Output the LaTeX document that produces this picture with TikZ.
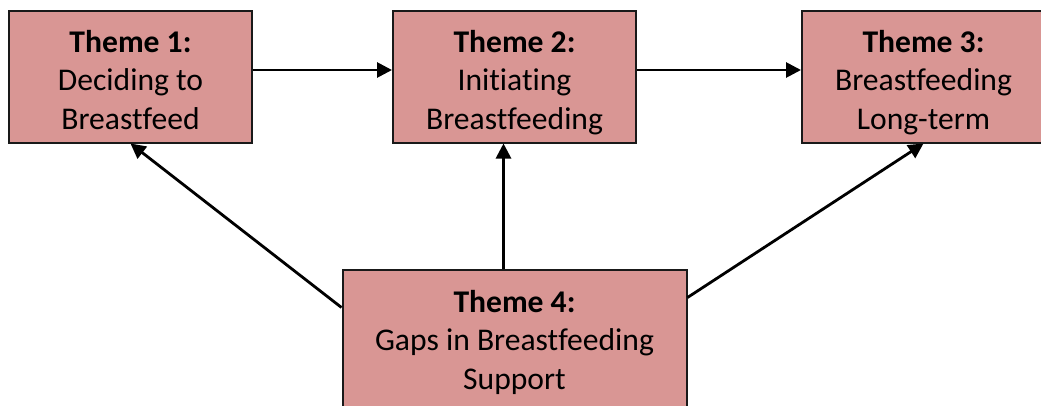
\documentclass[tikz,border=0pt]{standalone}
\usepackage{fontspec}
\setmainfont{Carlito}[Ligatures=NoCommon]
\usetikzlibrary{arrows.meta,positioning}
\definecolor{themered}{RGB}{217,150,148}
\definecolor{edgegray}{RGB}{25,25,25}

\begin{document}
\begin{tikzpicture}[
  x=1pt, y=-1pt,
  font=\fontsize{31.6}{38.5}\selectfont,
  every node/.style={align=center},
  themebox/.style={rectangle, draw=edgegray, fill=themered, line width=2pt,
    minimum width=243pt, minimum height=132pt, inner sep=0pt,
    text height=118.5pt, text depth=13.5pt},
  arr/.style={-{Triangle[length=15pt,width=15pt]}, line width=2.8pt},
]
\clip (0,0) rectangle (1041,405);

% Top row
\node[themebox] (t1) at (130.5,76.5) {\textbf{Theme 1:}\\Deciding to\\Breastfeed};
\node[themebox, right=139pt of t1] (t2) {\textbf{Theme 2:}\\Initiating\\Breastfeeding};
\node[themebox, right=164pt of t2] (t3) {\textbf{Theme 3:}\\Breastfeeding\\Long-term};

% Support theme
\node[themebox, below=125.5pt of t2, minimum width=344pt, minimum height=160pt,
      text height=119pt, text depth=41pt] (t4)
  {\textbf{Theme 4:}\\Gaps in Breastfeeding\\Support};

% Arrows along the row
\draw[arr] ([yshift=6.5pt]t1.east) -- ([yshift=6.5pt]t2.west);
\draw[arr] ([yshift=6.5pt]t2.east) -- ([yshift=6.5pt]t3.west);

% Arrows from theme 4
\draw[arr] ([yshift=-38.5pt]t4.north west) -- (t1.south);
\draw[arr] ([xshift=-11pt]t4.north) -- ([xshift=-11pt]t2.south);
\draw[arr] ([yshift=-28.5pt]t4.north east) -- (t3.south);
\end{tikzpicture}
\end{document}
